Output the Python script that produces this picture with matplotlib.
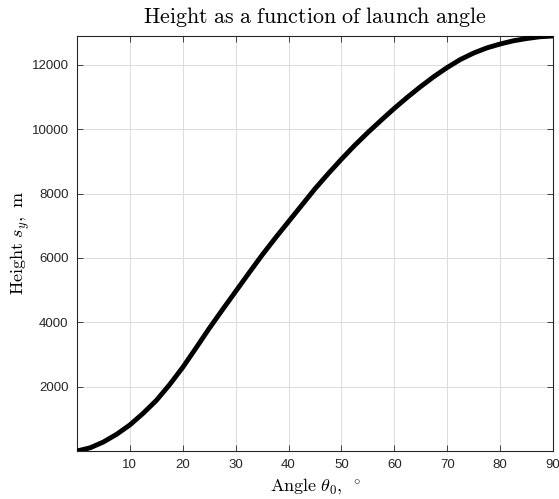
import matplotlib
matplotlib.use('Agg')
import matplotlib.pyplot as plt

plt.rcParams['mathtext.fontset'] = 'cm'
plt.rcParams['font.family'] = ['Liberation Sans', 'DejaVu Sans']

# values (every 2.5 degrees)
angle_deg = [0, 2.5, 5, 7.5, 10, 12.5, 15, 17.5, 20, 22.5, 25, 27.5, 30,
             32.5, 35, 37.5, 40, 42.5, 45, 47.5, 50, 52.5, 55, 57.5, 60,
             62.5, 65, 67.5, 70, 72.5, 75, 77.5, 80, 82.5, 85, 87.5, 90]
height_m = [0, 100, 280, 520, 810, 1170, 1570, 2060, 2600, 3200, 3810, 4390, 4960,
            5530, 6090, 6620, 7130, 7640, 8150, 8620, 9070, 9500, 9900, 10280, 10650,
            11000, 11330, 11640, 11920, 12170, 12370, 12530, 12650, 12750, 12820, 12875, 12900]

x_ticks = [10, 20, 30, 40, 50, 60, 70, 80, 90]
y_ticks = [2000, 4000, 6000, 8000, 10000, 12000]

fig = plt.figure(figsize=(5.59, 4.99), dpi=100)
ax = fig.add_axes([0.1377, 0.0962, 0.8516, 0.8317])

ax.plot(angle_deg, height_m, color='black', linewidth=3.5,
        solid_capstyle='round', solid_joinstyle='round', zorder=3)

ax.set_xlim(0, 90)
ax.set_ylim(0, 12900)
ax.set_xticks(x_ticks)
ax.set_yticks(y_ticks)
ax.tick_params(direction='in', top=True, right=True, length=4,
               width=0.6, labelsize=9.5, colors='#262626', pad=6)
for s in ax.spines.values():
    s.set_color('#262626')
    s.set_linewidth(0.8)
ax.grid(True, color='#dcdcdc', linewidth=0.7)
ax.set_axisbelow(True)

ax.set_title(r'$\mathrm{Height\ as\ a\ function\ of\ launch\ angle}$',
             fontsize=15.8, pad=9)
ax.set_xlabel(r'$\mathrm{Angle}\ \theta_0,\ ^\circ$', fontsize=13)
ax.set_ylabel(r'$\mathrm{Height}\ s_y,\ \mathrm{m}$', fontsize=13)
ax.xaxis.set_label_coords(0.5, -0.087)
ax.yaxis.set_label_coords(-0.118, 0.5)
ax.xaxis.label.set_va('center')
ax.yaxis.label.set_va('center')

fig.savefig('out.png', dpi=100, facecolor='white')
